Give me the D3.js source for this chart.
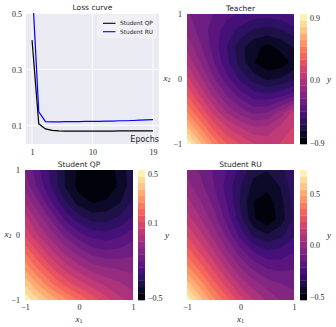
<!DOCTYPE html>
<html>
<head>
<meta charset="utf-8">
<script src="https://cdn.jsdelivr.net/npm/d3@7"></script>
<style>
  body { margin: 0; background: #fff; }
  svg { display: block; }
  .num { font-family: "Liberation Serif", serif; font-size: 8px; fill: #262626; }
  .title { font-family: "DejaVu Sans", sans-serif; font-size: 7.5px; fill: #262626; }
  .legend { font-family: "DejaVu Sans", sans-serif; font-size: 5.8px; fill: #262626; }
</style>
</head>
<body>
<script>
// Loss curve
const epochs = [1, 2, 3, 4, 5, 6, 7, 8, 9, 10, 11, 12, 13, 14, 15, 16, 17, 18, 19];
const lossQP = [0.405, 0.106, 0.088, 0.083, 0.081, 0.080, 0.080, 0.080, 0.080, 0.080,
                0.080, 0.080, 0.080, 0.081, 0.081, 0.081, 0.081, 0.081, 0.081];
const lossRU = [0.61, 0.149, 0.114, 0.113, 0.113, 0.114, 0.114, 0.114, 0.115, 0.115,
                0.115, 0.116, 0.116, 0.117, 0.117, 0.118, 0.119, 0.120, 0.121];
const lossTicksX = [1, 10, 19];
const lossTicksY = [0.1, 0.3, 0.5];
const lossRange = [0.034, 0.502];

// Contour grids: columns x1 = -1..1, rows x2 = 1 (top) .. -1 (bottom)
const gridTicks = [-1, 0, 1];
const teacher = [
  [-0.25, -0.30, -0.36, -0.42, -0.46, -0.50, -0.50, -0.48, -0.42],
  [-0.20, -0.30, -0.40, -0.50, -0.58, -0.65, -0.68, -0.65, -0.58],
  [-0.10, -0.25, -0.40, -0.55, -0.70, -0.80, -0.85, -0.80, -0.72],
  [ 0.00, -0.17, -0.35, -0.52, -0.68, -0.82, -0.90, -0.88, -0.80],
  [ 0.15, -0.05, -0.25, -0.42, -0.57, -0.68, -0.75, -0.72, -0.65],
  [ 0.30,  0.10, -0.10, -0.27, -0.40, -0.50, -0.52, -0.48, -0.40],
  [ 0.48,  0.28,  0.08, -0.10, -0.22, -0.30, -0.28, -0.15,  0.05],
  [ 0.70,  0.48,  0.27,  0.12,  0.02, -0.06, -0.05,  0.05,  0.12],
  [ 0.95,  0.70,  0.47,  0.30,  0.20,  0.12,  0.08,  0.12,  0.16]
];
const studentQP = [
  [-0.15, -0.25, -0.33, -0.42, -0.48, -0.50, -0.50, -0.45, -0.38],
  [-0.12, -0.22, -0.32, -0.42, -0.49, -0.52, -0.50, -0.46, -0.38],
  [-0.05, -0.15, -0.26, -0.36, -0.44, -0.47, -0.46, -0.42, -0.35],
  [ 0.03, -0.07, -0.17, -0.27, -0.34, -0.38, -0.38, -0.35, -0.30],
  [ 0.10,  0.00, -0.08, -0.17, -0.24, -0.28, -0.29, -0.27, -0.23],
  [ 0.20,  0.10,  0.01, -0.07, -0.13, -0.18, -0.20, -0.19, -0.17],
  [ 0.30,  0.20,  0.11,  0.03, -0.03, -0.08, -0.10, -0.11, -0.12],
  [ 0.41,  0.31,  0.22,  0.14,  0.08,  0.03, -0.01, -0.04, -0.07],
  [ 0.52,  0.43,  0.35,  0.28,  0.21,  0.14,  0.08,  0.02, -0.02]
];
const studentRU = [
  [-0.05, -0.10, -0.16, -0.22, -0.30, -0.38, -0.40, -0.36, -0.28],
  [ 0.00, -0.07, -0.15, -0.24, -0.34, -0.43, -0.45, -0.40, -0.30],
  [ 0.06, -0.02, -0.11, -0.22, -0.35, -0.47, -0.50, -0.43, -0.32],
  [ 0.13,  0.04, -0.06, -0.18, -0.32, -0.46, -0.52, -0.44, -0.33],
  [ 0.22,  0.12,  0.01, -0.11, -0.24, -0.36, -0.40, -0.36, -0.29],
  [ 0.32,  0.21,  0.10, -0.02, -0.13, -0.22, -0.27, -0.26, -0.22],
  [ 0.43,  0.32,  0.20,  0.08, -0.03, -0.11, -0.16, -0.17, -0.16],
  [ 0.57,  0.44,  0.31,  0.19,  0.08,  0.00, -0.06, -0.09, -0.10],
  [ 0.72,  0.57,  0.43,  0.31,  0.19,  0.10,  0.03, -0.03, -0.07]
];

// Colour bar ranges (level min/max) and ticks
const teacherRange = [-0.92, 0.96], teacherTicks = [-0.9, 0.0, 0.9];
const qpRange = [-0.52, 0.53], qpTicks = [-0.5, 0.1, 0.5];
const ruRange = [-0.53, 0.73], ruTicks = [-0.5, 0.0, 0.5];

const nLevels = 20;
const textColor = "#262626";

const svg = d3.select("body").append("svg")
    .attr("width", 336)
    .attr("height", 327);

const defs = svg.append("defs");

drawLoss({ left: 26, top: 13, right: 159, bottom: 144 });

drawContour({
  name: "teacher", title: "Teacher", values: teacher, range: teacherRange, ticks: teacherTicks,
  box: { left: 187, top: 14, right: 294, bottom: 144 }, bar: 300,
  yAxis: true, xAxis: false, yLabelX: 167
});
drawContour({
  name: "qp", title: "Student QP", values: studentQP, range: qpRange, ticks: qpTicks,
  box: { left: 25, top: 170, right: 133, bottom: 300 }, bar: 138,
  yAxis: true, xAxis: true, yLabelX: 8
});
drawContour({
  name: "ru", title: "Student RU", values: studentRU, range: ruRange, ticks: ruTicks,
  box: { left: 187, top: 170, right: 294, bottom: 300 }, bar: 300,
  yAxis: false, xAxis: true
});

function drawLoss(b) {
  const g = svg.append("g");

  const x = d3.scaleLinear()
      .domain([0.1, 19.9])
      .range([b.left, b.right]);

  const y = d3.scaleLinear()
      .domain(lossRange)
      .range([b.bottom, b.top]);

  // Background + grid
  g.append("rect")
      .attr("x", b.left).attr("y", b.top)
      .attr("width", b.right - b.left).attr("height", b.bottom - b.top)
      .style("fill", "#eaeaf2");

  g.selectAll(".gx")
      .data(lossTicksX)
    .enter().append("line")
      .attr("x1", d => x(d)).attr("x2", d => x(d))
      .attr("y1", b.top).attr("y2", b.bottom)
      .style("stroke", "#fff").style("stroke-width", 1);

  g.selectAll(".gy")
      .data(lossTicksY)
    .enter().append("line")
      .attr("x1", b.left).attr("x2", b.right)
      .attr("y1", d => y(d)).attr("y2", d => y(d))
      .style("stroke", "#fff").style("stroke-width", 1);

  defs.append("clipPath").attr("id", "clip-loss")
    .append("rect")
      .attr("x", b.left).attr("y", b.top)
      .attr("width", b.right - b.left).attr("height", b.bottom - b.top);

  // Legend box
  g.append("rect")
      .attr("x", 97).attr("y", 15)
      .attr("width", 60).attr("height", 23)
      .attr("rx", 2)
      .style("fill", "#f0f0f5");

  // Lines
  const line = d3.line()
      .x((d, i) => x(epochs[i]))
      .y(d => y(d));

  const series = [
    { name: "Student QP", values: lossQP, color: "#000000" },
    { name: "Student RU", values: lossRU, color: "#0000ff" }
  ];

  g.append("g")
      .attr("clip-path", "url(#clip-loss)")
    .selectAll("path")
      .data(series)
    .enter().append("path")
      .attr("d", d => line(d.values))
      .style("fill", "none")
      .style("stroke", d => d.color)
      .style("stroke-width", 1.2);

  // Legend entries
  const legend = g.selectAll(".legendItem")
      .data(series)
    .enter().append("g")
      .attr("transform", (d, i) => "translate(103," + (23.3 + i * 8.4) + ")");

  legend.append("line")
      .attr("x1", 0).attr("x2", 12.5)
      .style("stroke", d => d.color)
      .style("stroke-width", 1.1);

  legend.append("text")
      .attr("class", "legend")
      .attr("x", 17)
      .attr("dy", "0.35em")
      .text(d => d.name);

  // Axes
  const xAxis = d3.axisBottom(x)
      .tickValues(lossTicksX)
      .tickFormat(d3.format("d"))
      .tickSize(0)
      .tickPadding(5);

  const yAxis = d3.axisLeft(y)
      .tickValues(lossTicksY)
      .tickFormat(d3.format(".1f"))
      .tickSize(0)
      .tickPadding(4);

  styleAxis(g.append("g")
      .attr("transform", "translate(0," + b.bottom + ")")
      .call(xAxis));

  styleAxis(g.append("g")
      .attr("transform", "translate(" + b.left + ",0)")
      .call(yAxis));

  g.append("text")
      .attr("class", "title")
      .attr("x", b.right)
      .attr("y", b.bottom - 2)
      .attr("text-anchor", "end")
      .style("font-size", "8px")
      .text("Epochs");

  g.append("text")
      .attr("class", "title")
      .attr("x", (b.left + b.right) / 2)
      .attr("y", 10)
      .attr("text-anchor", "middle")
      .text("Loss curve");
}

function drawContour(p) {
  const b = p.box,
        n = p.values[0].length,
        m = p.values.length;

  const g = svg.append("g").attr("class", p.name);

  // Data scales
  const x = d3.scaleLinear().domain([-1, 1]).range([b.left, b.right]);
  const y = d3.scaleLinear().domain([-1, 1]).range([b.bottom, b.top]);

  // Grid index -> pixel (sample i sits at i + 0.5 in contour space)
  const gx = d3.scaleLinear().domain([0.5, n - 0.5]).range([b.left, b.right]);
  const gy = d3.scaleLinear().domain([0.5, m - 0.5]).range([b.top, b.bottom]);

  const levels = d3.range(nLevels + 1)
      .map(i => p.range[0] + i * (p.range[1] - p.range[0]) / nLevels);
  const bandColor = i => d3.interpolateMagma((i + 0.5) / nLevels);

  const contours = d3.contours()
      .size([n, m])
      .thresholds(levels.slice(0, -1))(p.values.flat());

  const path = d3.geoPath(d3.geoTransform({
    point: function(px, py) { this.stream.point(gx(px), gy(py)); }
  }));

  defs.append("clipPath").attr("id", "clip-" + p.name)
    .append("rect")
      .attr("x", b.left).attr("y", b.top)
      .attr("width", b.right - b.left).attr("height", b.bottom - b.top);

  g.append("g")
      .attr("clip-path", "url(#clip-" + p.name + ")")
    .selectAll("path")
      .data(contours)
    .enter().append("path")
      .attr("d", path)
      .style("fill", (d, i) => bandColor(i))
      .style("stroke", (d, i) => bandColor(i))
      .style("stroke-width", 0.3);

  // Colour bar
  const c = d3.scaleLinear().domain(p.range).range([b.bottom, b.top]);

  g.selectAll(".band")
      .data(d3.range(nLevels))
    .enter().append("rect")
      .attr("x", p.bar)
      .attr("y", i => c(levels[i + 1]))
      .attr("width", 7)
      .attr("height", i => c(levels[i]) - c(levels[i + 1]) + 0.3)
      .style("fill", i => bandColor(i));

  styleAxis(g.append("g")
      .attr("transform", "translate(" + (p.bar + 7) + ",0)")
      .call(d3.axisRight(c)
        .tickValues(p.ticks)
        .tickFormat(d3.format(".1f"))
        .tickSize(0)
        .tickPadding(3)));

  g.append("text")
      .attr("class", "num")
      .attr("x", p.bar + 29)
      .attr("y", (b.top + b.bottom) / 2)
      .attr("dy", "0.3em")
      .attr("text-anchor", "middle")
      .style("font-style", "italic")
      .style("font-size", "9px")
      .text("y");

  // Axes
  if (p.yAxis) {
    styleAxis(g.append("g")
        .attr("transform", "translate(" + b.left + ",0)")
        .call(d3.axisLeft(y).tickValues(gridTicks).tickFormat(d3.format("d"))
          .tickSize(0).tickPadding(5)));
    axisLabel(g, p.yLabelX, (b.top + b.bottom) / 2, "2");
  }
  if (p.xAxis) {
    styleAxis(g.append("g")
        .attr("transform", "translate(0," + b.bottom + ")")
        .call(d3.axisBottom(x).tickValues(gridTicks).tickFormat(d3.format("d"))
          .tickSize(0).tickPadding(4)));
    axisLabel(g, (b.left + b.right) / 2, b.bottom + 20, "1");
  }

  g.append("text")
      .attr("class", "title")
      .attr("x", (b.left + b.right) / 2)
      .attr("y", b.top - 3)
      .attr("text-anchor", "middle")
      .text(p.title);
}

function axisLabel(g, cx, cy, sub) {
  const t = g.append("text")
      .attr("class", "num")
      .attr("x", cx)
      .attr("y", cy)
      .attr("dy", "0.2em")
      .attr("text-anchor", "middle")
      .style("font-size", "9px");
  t.append("tspan").style("font-style", "italic").text("x");
  t.append("tspan").attr("dy", "0.25em").style("font-size", "6px").text(sub);
}

function styleAxis(sel) {
  sel.select(".domain").remove();
  sel.selectAll("text")
      .attr("class", "num")
      .style("fill", textColor);
}
</script>
</body>
</html>
